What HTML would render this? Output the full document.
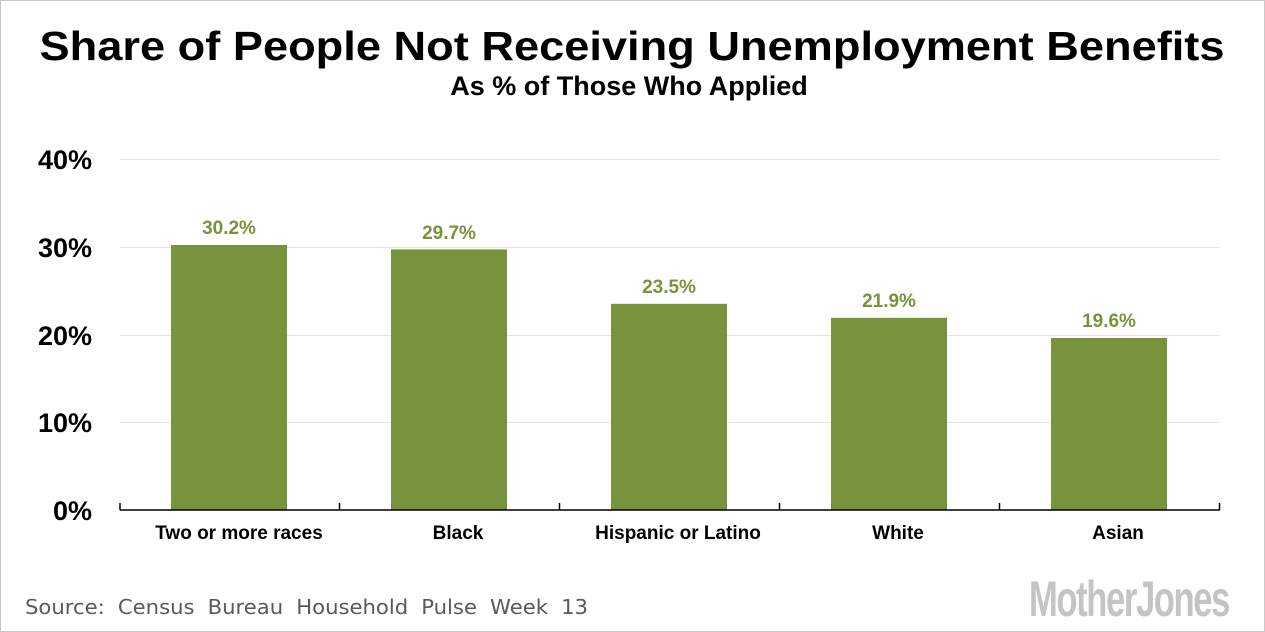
<!DOCTYPE html>
<html><head><meta charset="utf-8"><style>
html,body{margin:0;padding:0;background:#fff}
body{width:1265px;height:632px;position:relative;overflow:hidden;font-family:"Liberation Sans",sans-serif}
.frame{position:absolute;left:0;top:0;width:1263px;height:630px;border:1px solid #c8c8c8}
</style></head><body>
<div class="frame"></div>
<svg width="1265" height="632" style="position:absolute;left:0;top:0" font-family="Liberation Sans, sans-serif">
<text x="632" y="60" text-anchor="middle" font-size="41" font-weight="bold" fill="#000" textLength="1185" lengthAdjust="spacingAndGlyphs">Share of People Not Receiving Unemployment Benefits</text>
<text x="629" y="95" text-anchor="middle" font-size="27" font-weight="bold" fill="#000">As % of Those Who Applied</text>
<g stroke="#e3e3e3" stroke-width="1">
<line x1="120" x2="1220" y1="159.5" y2="159.5"/>
<line x1="120" x2="1220" y1="247.5" y2="247.5"/>
<line x1="120" x2="1220" y1="335.5" y2="335.5"/>
<line x1="120" x2="1220" y1="422.5" y2="422.5"/>
</g>
<g font-size="27" font-weight="bold" fill="#000" text-anchor="end">
<text x="92" y="169">40%</text>
<text x="92" y="257">30%</text>
<text x="92" y="345">20%</text>
<text x="92" y="432">10%</text>
<text x="92" y="520">0%</text>
</g>
<g fill="#77933c">
<rect x="171" y="245" width="116" height="265"/>
<rect x="391" y="249.4" width="116" height="260.6"/>
<rect x="611" y="303.8" width="116" height="206.2"/>
<rect x="831" y="317.8" width="116" height="192.2"/>
<rect x="1051" y="338" width="116" height="172"/>
</g>
<g font-size="19" font-weight="bold" fill="#77933c" text-anchor="middle">
<text x="229" y="234">30.2%</text>
<text x="449" y="239">29.7%</text>
<text x="669" y="293">23.5%</text>
<text x="889" y="307">21.9%</text>
<text x="1109" y="327">19.6%</text>
</g>
<g stroke="#000" stroke-width="1.5" fill="none">
<line x1="120" x2="1220" y1="510" y2="510"/>
<line x1="120" x2="120" y1="503" y2="510"/>
<line x1="339.5" x2="339.5" y1="503" y2="510"/>
<line x1="559.5" x2="559.5" y1="503" y2="510"/>
<line x1="779.5" x2="779.5" y1="503" y2="510"/>
<line x1="999.5" x2="999.5" y1="503" y2="510"/>
<line x1="1219.5" x2="1219.5" y1="503" y2="510"/>
</g>
<g font-size="19" font-weight="bold" fill="#000" text-anchor="middle">
<text x="239" y="539">Two or more races</text>
<text x="458" y="539">Black</text>
<text x="678" y="539">Hispanic or Latino</text>
<text x="898" y="539">White</text>
<text x="1118" y="539">Asian</text>
</g>
<text x="25" y="614" font-family="DejaVu Sans, sans-serif" font-size="20" fill="#5a5a5a" word-spacing="6" textLength="563" lengthAdjust="spacingAndGlyphs">Source: Census Bureau Household Pulse Week 13</text>
<text x="1029" y="616" font-size="50" font-weight="bold" fill="#c4c4c4" textLength="200" lengthAdjust="spacingAndGlyphs" letter-spacing="-2">MotherJones</text>
</svg>
</body></html>
